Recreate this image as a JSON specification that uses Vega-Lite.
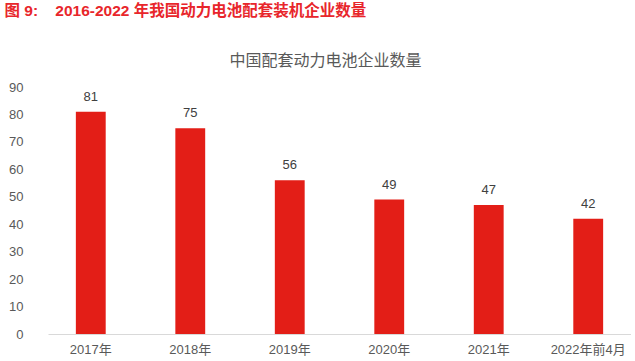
{
  "$schema": "https://vega.github.io/schema/vega-lite/v6.json",
  "padding": {"left": 4, "top": 3, "right": 0, "bottom": 0},
  "background": "white",
  "title": {
    "text": "图 9:\u00a0\u00a0\u00a0 2016-2022 年我国动力电池配套装机企业数量",
    "anchor": "start",
    "frame": "bounds",
    "font": "Liberation Sans, Noto Sans CJK SC",
    "fontSize": 15.5,
    "fontWeight": "bold",
    "color": "#e8262b",
    "offset": 34,
    "dx": -4
  },
  "data": {
    "values": [
      {"year": "2017年", "count": 81},
      {"year": "2018年", "count": 75},
      {"year": "2019年", "count": 56},
      {"year": "2020年", "count": 49},
      {"year": "2021年", "count": 47},
      {"year": "2022年前4月", "count": 42}
    ]
  },
  "vconcat": [
    {
      "width": 583,
      "height": 247,
      "title": {
        "text": "中国配套动力电池企业数量",
        "anchor": "middle",
        "font": "Noto Sans CJK SC",
        "fontSize": 16,
        "fontWeight": "normal",
        "color": "#595959",
        "offset": 12,
        "dx": -14
      },
      "encoding": {
        "x": {
          "field": "year",
          "type": "nominal",
          "sort": null,
          "scale": {"paddingInner": 0.7, "paddingOuter": 0.28},
          "axis": {
            "title": null,
            "labelAngle": 0,
            "ticks": false,
            "domainColor": "#d9d9d9",
            "labelColor": "#595959",
            "labelFont": "Liberation Sans, Noto Sans CJK SC",
            "labelFontSize": 13,
            "labelPadding": 9
          }
        },
        "y": {
          "field": "count",
          "type": "quantitative",
          "scale": {"domain": [0, 90]},
          "axis": {
            "title": null,
            "values": [0, 10, 20, 30, 40, 50, 60, 70, 80, 90],
            "domain": false,
            "ticks": false,
            "grid": false,
            "labelColor": "#595959",
            "labelFont": "Liberation Sans",
            "labelFontSize": 13,
            "labelPadding": 25
          }
        }
      },
      "layer": [
        {"mark": {"type": "bar", "color": "#e31e17"}},
        {
          "mark": {
            "type": "text",
            "baseline": "bottom",
            "dy": -8,
            "font": "Liberation Sans",
            "fontSize": 13,
            "color": "#404040"
          },
          "encoding": {"text": {"field": "count", "type": "quantitative"}}
        }
      ]
    }
  ],
  "config": {"view": {"stroke": null}, "concat": {"spacing": 0}}
}
